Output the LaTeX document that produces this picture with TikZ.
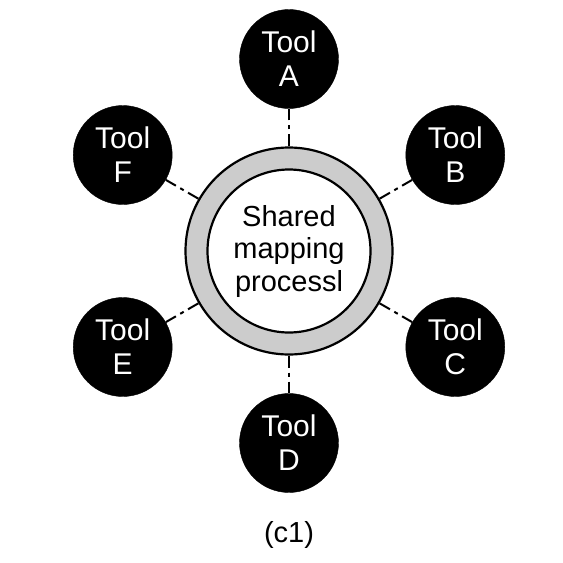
\documentclass[tikz,border=0pt]{standalone}
\usepackage{fontspec}
\setmainfont{Liberation Sans}
\usepackage{tikz}

\tikzset{
	tool/.style={circle,draw=black,fill=black,text=white,minimum size=99pt,inner sep=0pt,align=center,font=\fontsize{30}{34}\selectfont},
	link/.style={line width=2pt,dash pattern=on 12pt off 5pt on 4pt off 5pt},
}

\begin{document}
\begin{tikzpicture}[x=1pt,y=-1pt]
	\useasboundingbox (0,0) rectangle (563,563);
	\node[circle,draw=black,line width=2.2pt,fill=gray!40,minimum size=207pt,inner sep=0pt] (hub) at (289,251) {};
	\node[circle,draw=black,line width=2.2pt,fill=white,minimum size=163pt,inner sep=0pt,align=center,font=\fontsize{29}{32.5}\selectfont] (core) at (hub) {Shared\\mapping\\processl};
	\foreach \n/\a in {A/-90,B/-30,C/30,D/90,E/150,F/210}
	{ \node[tool] (\n) at ([shift={(\a:192)}]hub.center) {Tool\\\n};
		\draw[link] (hub) -- (\n);
	}
	\node[font=\fontsize{29}{32}\selectfont] (cap) at (289,535) {(c1)};
\end{tikzpicture}
\end{document}
